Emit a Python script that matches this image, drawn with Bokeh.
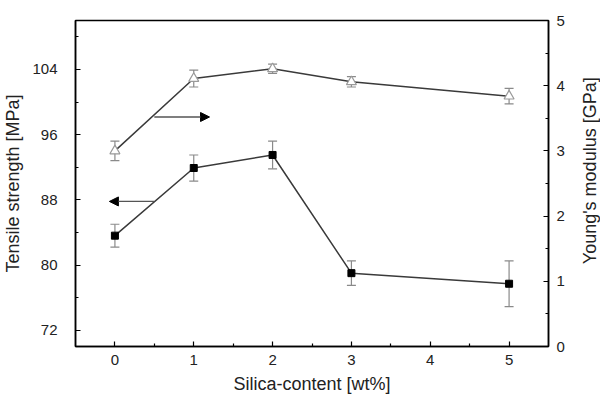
import math
from bokeh.plotting import figure
from bokeh.layouts import row
from bokeh.models import (Range1d, LinearAxis, FixedTicker, Whisker, TeeHead,
                          ColumnDataSource, Arrow, NormalHead, Label)
from bokeh.embed import file_html
from bokeh.resources import INLINE

# ---- data ----
silica = [0, 1, 2, 3, 5]
tensile = [83.6, 91.9, 93.5, 79.0, 77.7]
tensile_err = [1.4, 1.6, 1.7, 1.5, 2.8]
modulus = [3.00, 4.11, 4.26, 4.06, 3.84]
modulus_err = [0.15, 0.13, 0.07, 0.08, 0.12]

x_ticks = [0, 1, 2, 3, 4, 5]
x_minor = [0.5, 1.5, 2.5, 3.5, 4.5]
left_ticks = [72, 80, 88, 96, 104]
left_minor = [76, 84, 92, 100, 108]
right_ticks = [0, 1, 2, 3, 4, 5]
right_minor = [0.5, 1.5, 2.5, 3.5, 4.5]

# arrows: (x_start, x_end, y)
arrow_mod = (0.5, 1.2, 3.52)
arrow_ten = (0.5, -0.07, 87.8)

FONT = "Liberation Sans"
LINE = "#3a3a3a"

H = 397
B_TOP, B_BOTTOM = 20, 51
MAIN_W, SIDE_W = 578, 22

p = figure(width=MAIN_W, height=H, output_backend="svg", toolbar_location=None,
           x_range=Range1d(-0.5, 5.5), y_range=Range1d(70, 110),
           min_border_left=74, min_border_right=30, min_border_top=B_TOP,
           min_border_bottom=B_BOTTOM)
p.extra_y_ranges = {"mod": Range1d(0, 5)}
p.grid.visible = False
p.background_fill_color = "white"
p.border_fill_color = "white"
p.outline_line_color = "black"
p.outline_line_width = 1.5

def style_axis(ax, standoff, label_standoff):
    ax.axis_line_color = "black"
    ax.axis_line_width = 1.5
    ax.major_tick_in = 5
    ax.major_tick_out = 0
    ax.minor_tick_in = 3
    ax.minor_tick_out = 0
    ax.major_tick_line_color = "black"
    ax.minor_tick_line_color = "black"
    ax.major_tick_line_width = 1.2
    ax.minor_tick_line_width = 1.2
    ax.major_label_text_font = FONT
    ax.major_label_text_font_size = "15px"
    ax.major_label_text_color = "#222222"
    ax.major_label_standoff = standoff
    ax.axis_label_text_font = FONT
    ax.axis_label_text_font_size = "18px"
    ax.axis_label_text_font_style = "normal"
    ax.axis_label_text_color = "#222222"
    ax.axis_label_standoff = label_standoff

xa = p.xaxis[0]
xa.ticker = FixedTicker(ticks=x_ticks, minor_ticks=x_minor)
xa.axis_label = "Silica-content [wt%]"
style_axis(xa, 8, 6)

ya = p.yaxis[0]
ya.ticker = FixedTicker(ticks=left_ticks, minor_ticks=left_minor)
ya.axis_label = "Tensile strength [MPa]"
style_axis(ya, 18, 6)

ra = LinearAxis(y_range_name="mod")
ra.ticker = FixedTicker(ticks=right_ticks, minor_ticks=right_minor)
style_axis(ra, 8, 12)
p.add_layout(ra, "right")

# tensile series
src_t = ColumnDataSource(dict(x=silica, y=tensile,
                              lo=[v - e for v, e in zip(tensile, tensile_err)],
                              hi=[v + e for v, e in zip(tensile, tensile_err)]))
p.line("x", "y", source=src_t, line_color=LINE, line_width=1.5)
p.add_layout(Whisker(source=src_t, base="x", lower="lo", upper="hi",
                     line_color="#8a8a8a", line_width=1.2,
                     upper_head=TeeHead(size=9, line_color="#8a8a8a", line_width=1.2),
                     lower_head=TeeHead(size=9, line_color="#8a8a8a", line_width=1.2)))
p.scatter("x", "y", source=src_t, marker="square", size=7,
          fill_color="black", line_color="black")

# modulus series
src_m = ColumnDataSource(dict(x=silica, y=modulus,
                              lo=[v - e for v, e in zip(modulus, modulus_err)],
                              hi=[v + e for v, e in zip(modulus, modulus_err)]))
p.line("x", "y", source=src_m, y_range_name="mod", line_color=LINE, line_width=1.5)
p.add_layout(Whisker(source=src_m, base="x", lower="lo", upper="hi",
                     y_range_name="mod",
                     line_color="#8a8a8a", line_width=1.2,
                     upper_head=TeeHead(size=9, line_color="#8a8a8a", line_width=1.2),
                     lower_head=TeeHead(size=9, line_color="#8a8a8a", line_width=1.2)))
p.scatter("x", "y", source=src_m, y_range_name="mod", marker="triangle", size=10,
          fill_color="white", line_color="#9a9a9a", line_width=1.2)

# arrows
p.add_layout(Arrow(x_start=arrow_mod[0], x_end=arrow_mod[1], y_start=arrow_mod[2],
                   y_end=arrow_mod[2], y_range_name="mod",
                   line_color="#555555", line_width=1.3,
                   end=NormalHead(size=9, fill_color="black", line_color="black")))
p.add_layout(Arrow(x_start=arrow_ten[0], x_end=arrow_ten[1], y_start=arrow_ten[2],
                   y_end=arrow_ten[2],
                   line_color="#555555", line_width=1.3,
                   end=NormalHead(size=9, fill_color="black", line_color="black")))

# narrow side strip carrying the right-axis title, reading bottom-to-top
q = figure(width=SIDE_W, height=H, output_backend="svg", toolbar_location=None,
           x_range=Range1d(0, SIDE_W), y_range=Range1d(0, H),
           x_axis_type=None, y_axis_type=None, min_border=0)
q.grid.visible = False
q.outline_line_color = None
q.background_fill_color = "white"
q.border_fill_color = "white"
frame_mid = B_BOTTOM + (H - B_TOP - B_BOTTOM) / 2
q.add_layout(Label(x=SIDE_W / 2, y=frame_mid, text="Young's modulus [GPa]",
                   angle=math.pi / 2, text_align="center", text_baseline="middle",
                   text_font=FONT, text_font_size="18px", text_color="#222222"))

layout = row(p, q, spacing=0)
open("out.html", "w").write(file_html(layout, INLINE))
